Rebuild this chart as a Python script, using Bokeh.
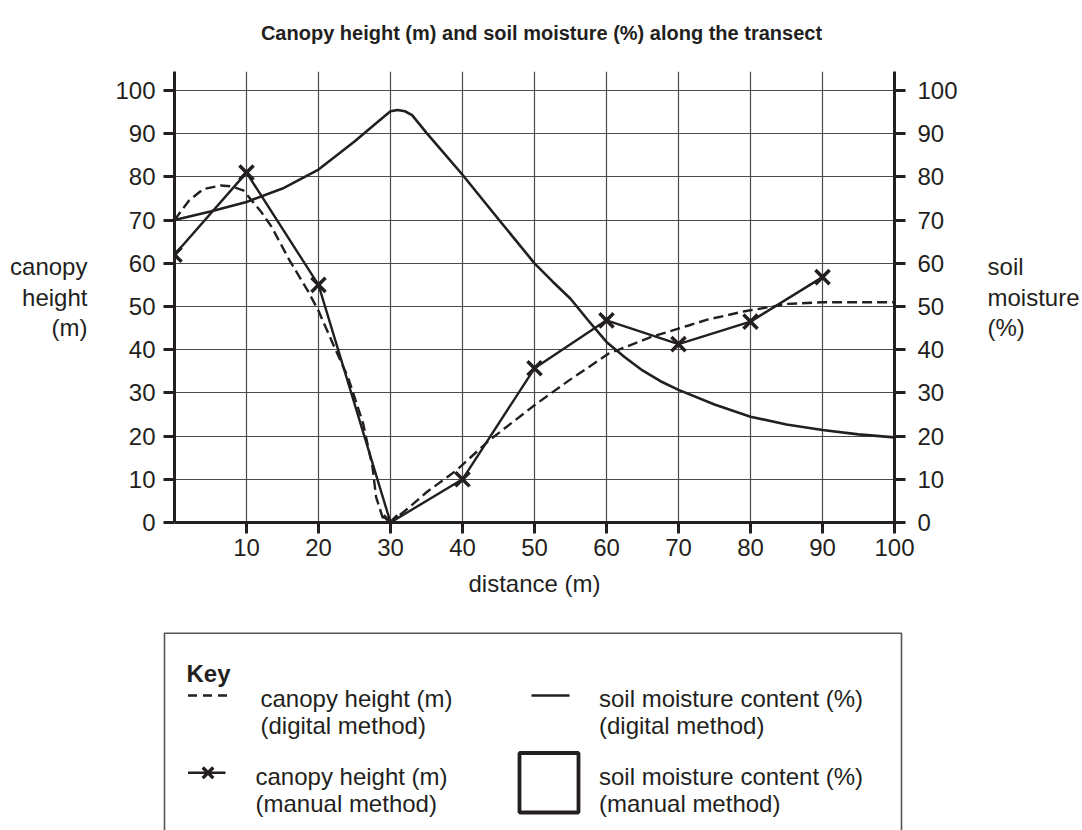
from bokeh.plotting import figure
from bokeh.models import Range1d, LinearAxis, FixedTicker, Label
from bokeh.embed import file_html
from bokeh.resources import INLINE

# ---------------- data ----------------
distance_manual = [0, 10, 20, 30, 40, 50, 60, 70, 80, 90]
canopy_manual = [62, 81, 55, 0, 10, 35.7, 46.8, 41.3, 46.5, 56.8]

distance_canopy_digital = [0, 2, 4, 6.4, 8, 9.6, 12, 13.5, 16, 18.5, 20, 22, 24.1, 26.2,
                           27.5, 28, 28.9, 30, 32.6, 35, 39.1, 43.7, 50.2, 54.8, 60.3,
                           66.3, 71.4, 74.1, 79.2, 85.2, 90, 95, 100]
canopy_digital = [70, 74.5, 77.2, 78, 77.8, 76.8, 72, 68.4, 60.6, 53.7, 49, 41.4, 33.6, 22.9,
                  12.8, 5.9, 1.2, 0, 3.5, 7, 12, 19, 27.4, 32.9, 39.1,
                  43, 45.6, 47, 48.9, 50.6, 51, 51, 51]

distance_soil = [0, 5, 10, 15, 20, 25, 28, 30, 31, 32, 33, 35, 37, 40, 45, 50, 52.5, 55,
                 57.5, 60, 62.5, 65, 67.5, 70, 75, 80, 85, 90, 95, 100]
soil_digital = [70, 72, 74.2, 77.3, 81.7, 88.2, 92.4, 95.2, 95.5, 95.2, 94.3, 90.2, 86.3,
                80.5, 70.2, 60, 55.8, 51.8, 46.7, 41.8, 38.3, 35.2, 32.7, 30.7, 27.3,
                24.5, 22.7, 21.4, 20.4, 19.7]

y_ticks = [0, 10, 20, 30, 40, 50, 60, 70, 80, 90, 100]
x_ticks = [10, 20, 30, 40, 50, 60, 70, 80, 90, 100]

title_text = "Canopy height (m) and soil moisture (%) along the transect"
left_label = "canopy\nheight\n(m)"
right_label = "soil\nmoisture\n(%)"
x_label = "distance (m)"

# ---------------- styling ----------------
FONT = "Liberation Sans"
INK = "#231f20"
GRID = "#4a4a4a"
TICK_FS = "24px"
TEXT_FS = "24px"
Y_END = 104.4
W = 1082

def blank_panel(h):
    f = figure(width=W, height=h, x_range=Range1d(0, W), y_range=Range1d(h, 0),
               output_backend="svg", toolbar_location=None, min_border=0,
               x_axis_type=None, y_axis_type=None)
    f.grid.visible = False
    f.outline_line_color = None
    f.background_fill_color = "white"
    f.border_fill_color = "white"
    return f

# ---------------- title strip ----------------
TH = 60
t = blank_panel(TH)
t.add_layout(Label(x=541, y=32, text=title_text, text_align="center", text_baseline="middle",
                   text_font=FONT, text_font_size="20px", text_font_style="bold",
                   text_color=INK))

# ---------------- main chart ----------------
p = figure(width=W, height=608 - TH,
           x_range=Range1d(0, 100), y_range=Range1d(0, Y_END),
           output_backend="svg", toolbar_location=None,
           min_border_left=174, min_border_right=185,
           min_border_top=71 - TH, min_border_bottom=86)
p.outline_line_color = None
p.background_fill_color = "white"
p.border_fill_color = "white"

p.extra_y_ranges = {"soil": Range1d(0, Y_END)}
right_axis = LinearAxis(y_range_name="soil")
p.add_layout(right_axis, "right")

p.xaxis.ticker = FixedTicker(ticks=x_ticks)
p.yaxis[0].ticker = FixedTicker(ticks=y_ticks)
right_axis.ticker = FixedTicker(ticks=y_ticks)

for ax in [p.xaxis[0], p.yaxis[0], right_axis]:
    ax.axis_line_width = 3
    ax.axis_line_color = INK
    ax.major_tick_line_width = 3
    ax.major_tick_line_color = INK
    ax.major_tick_out = 11
    ax.major_tick_in = 0
    ax.minor_tick_out = 0
    ax.minor_tick_in = 0
    ax.major_label_text_font = FONT
    ax.major_label_text_font_size = TICK_FS
    ax.major_label_text_color = INK
    ax.axis_label_text_font = FONT
    ax.axis_label_text_font_size = TEXT_FS
    ax.axis_label_text_font_style = "normal"
    ax.axis_label_text_color = INK
    ax.axis_label_text_line_height = 1.12

p.xaxis.major_label_standoff = 5
p.yaxis[0].major_label_standoff = 8
right_axis.major_label_standoff = 12

p.xaxis.axis_label = x_label
p.xaxis.axis_label_standoff = 11

p.yaxis[0].axis_label = left_label
p.yaxis[0].axis_label_orientation = "horizontal"
p.yaxis[0].axis_label_text_align = "right"
p.yaxis[0].axis_label_standoff = 25

right_axis.axis_label = right_label
right_axis.axis_label_orientation = "horizontal"
right_axis.axis_label_text_align = "left"
right_axis.axis_label_standoff = 27

p.xgrid.ticker = FixedTicker(ticks=x_ticks)
p.ygrid.ticker = FixedTicker(ticks=y_ticks[1:])
for g in [p.xgrid, p.ygrid]:
    g.grid_line_color = GRID
    g.grid_line_width = 1.2

# data marks
p.line(distance_soil, soil_digital, y_range_name="soil", line_color=INK, line_width=2.6,
       line_join="round")
p.line(distance_canopy_digital, canopy_digital, line_color=INK, line_width=2.4, line_dash="10 5")
p.line(distance_manual, canopy_manual, line_color=INK, line_width=2.4)
p.scatter(distance_manual, canopy_manual, marker="x", size=20, line_color=INK, line_width=3.5)

# ---------------- key (legend) ----------------
KH = 222
k = blank_panel(KH)

BOX_L, BOX_R, BOX_T = 164, 901, 24.7
k.line([BOX_L, BOX_L, BOX_R, BOX_R], [KH, BOX_T, BOX_T, KH], line_color="#555555", line_width=1.6)

def ktext(x, y, txt, bold=False):
    k.add_layout(Label(x=x, y=y, text=txt, text_align="left", text_baseline="alphabetic",
                       text_font=FONT, text_font_size=TEXT_FS, text_color=INK,
                       text_font_style="bold" if bold else "normal"))

ktext(186, 65.3, "Key", bold=True)

# row 1
k.line([187.5, 227.5], [87, 87], line_color=INK, line_width=2.4, line_dash="9 6")
ktext(260, 90.3, "canopy height (m)")
ktext(260, 117, "(digital method)")
k.line([531, 569], [87, 87], line_color=INK, line_width=2.6)
ktext(598.5, 90.3, "soil moisture content (%)")
ktext(598.5, 117, "(digital method)")

# row 2
k.line([187.5, 225], [164.3, 164.3], line_color=INK, line_width=2.4)
k.scatter([207.5], [164.3], marker="x", size=15, line_color=INK, line_width=3.4)
ktext(255, 168, "canopy height (m)")
ktext(255, 195, "(manual method)")
k.quad(left=[519], right=[578], top=[144.5], bottom=[204], fill_color=None,
       line_color=INK, line_width=3.8)
ktext(598.5, 168, "soil moisture content (%)")
ktext(598.5, 195, "(manual method)")

open("out.html", "w").write(file_html([t, p, k], INLINE))
